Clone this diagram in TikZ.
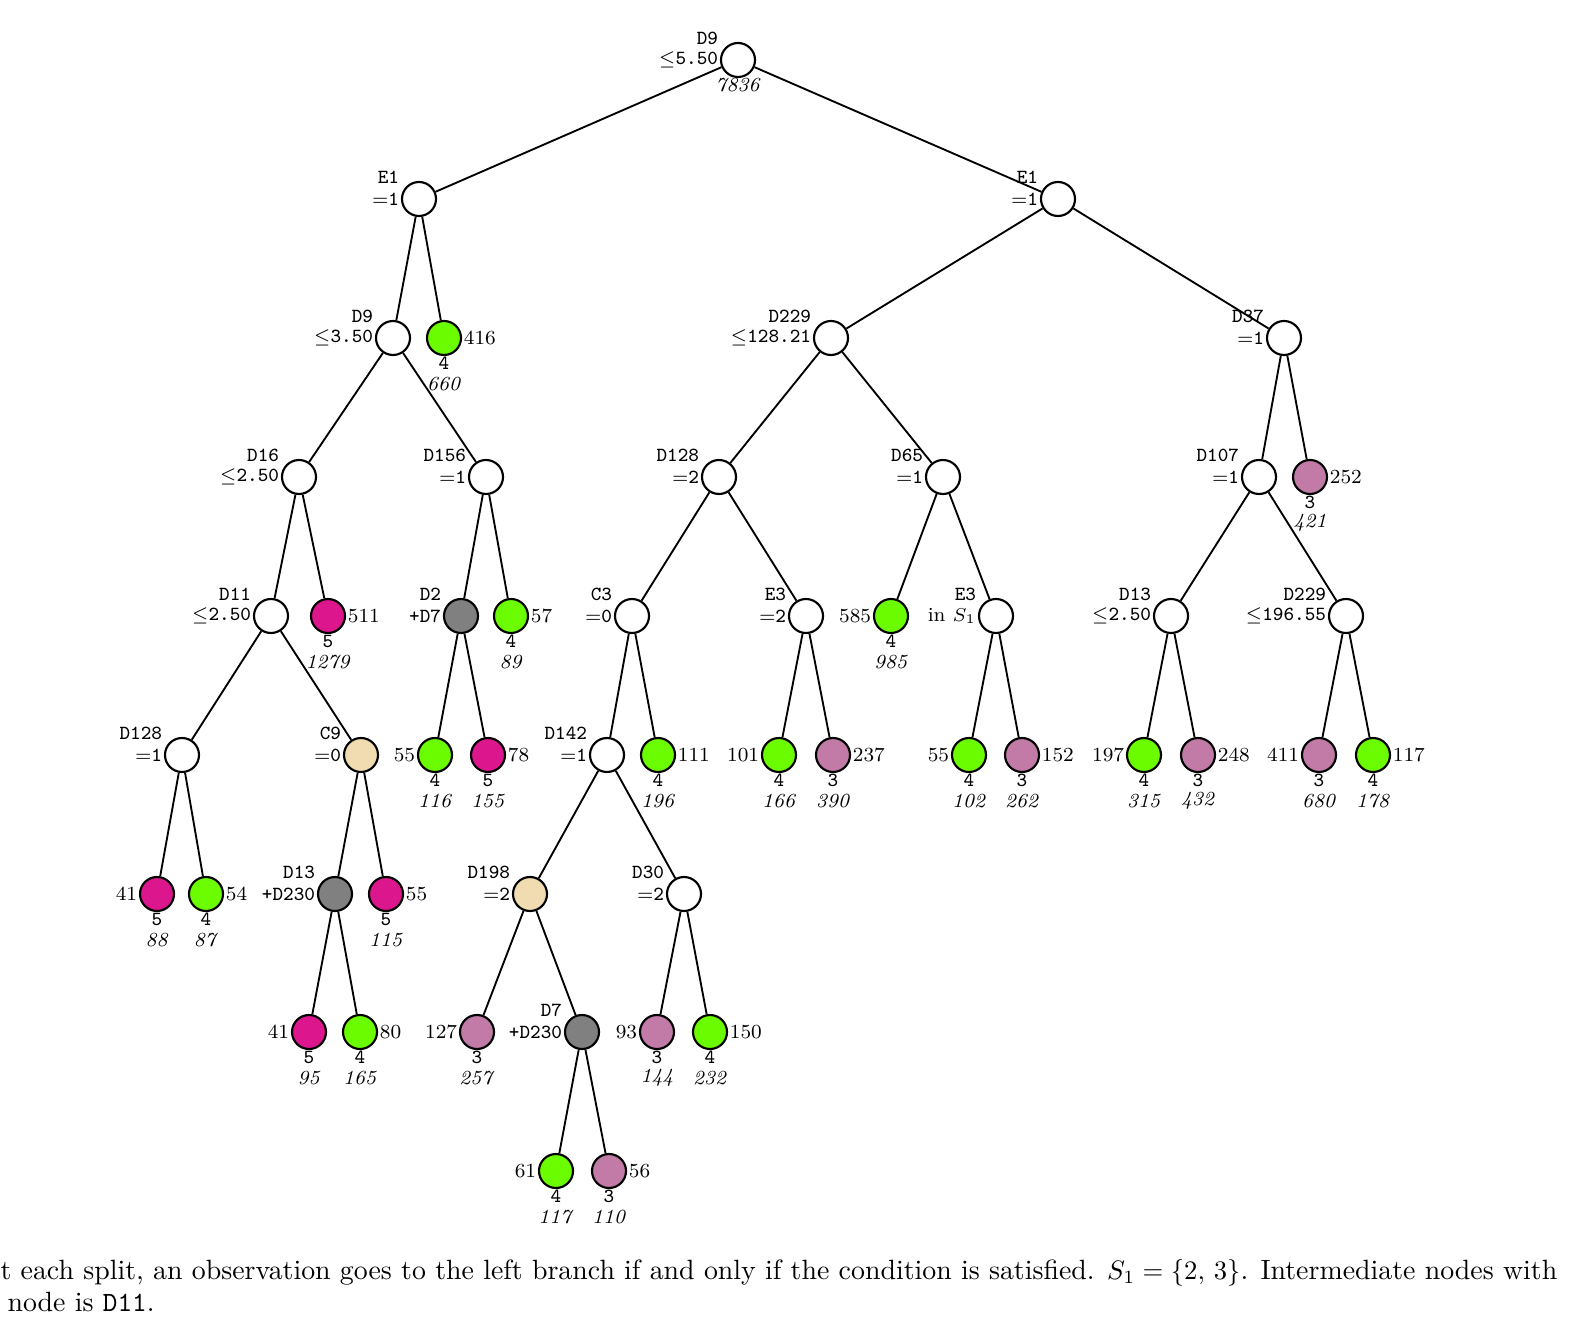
\documentclass[tikz,border=0pt]{standalone}
\usetikzlibrary{calc}
\definecolor{cgreen}{RGB}{108,252,0}
\definecolor{cmag}{RGB}{220,22,140}
\definecolor{cmauve}{RGB}{194,122,166}
\definecolor{cgray}{RGB}{128,128,128}
\definecolor{cbeige}{RGB}{240,220,176}
\tikzset{
  nd/.style={circle, draw, line width=0.8pt, minimum size=12.75pt, inner sep=0pt},
  lab/.style={inner sep=0.5pt, font=\fontsize{7.5}{9}\selectfont},
  edge/.style={line width=0.7pt},
  captext/.style={anchor=base west, inner sep=0pt, font=\fontsize{10.45}{12.5}\selectfont}
}
\newcommand{\inode}[6]{%
  \node[nd, fill=#4] (#1) at (#2,#3) {};
  \node[lab, anchor=east] (#1-c) at (#1.west) {#6};
  \node[lab, anchor=east] (#1-v) at ($(#1-c.east)+(0,-22)$) {#5};
}
\newcommand{\leafL}[7]{%
  \node[nd, fill=#4] (#1) at (#2,#3) {};
  \node[lab, anchor=east] (#1-n) at (#1.west) {#5};
  \node[lab] (#1-k) at ($(#1)+(0,25.5)$) {\texttt{#6}};
  \node[lab] (#1-s) at ($(#1)+(0,46)$) {\textit{#7}};
}
\newcommand{\leafR}[7]{%
  \node[nd, fill=#4] (#1) at (#2,#3) {};
  \node[lab, anchor=west] (#1-n) at (#1.east) {#5};
  \node[lab] (#1-k) at ($(#1)+(0,25.5)$) {\texttt{#6}};
  \node[lab] (#1-s) at ($(#1)+(0,46)$) {\textit{#7}};
}
\begin{document}
\begin{tikzpicture}[x=0.375pt,y=-0.375pt]
\useasboundingbox (0,0) rectangle (1570,1340);
% level 0
\inode{root}{738}{60}{white}{\texttt{D9}}{$\le$\texttt{5.50}}
\node[lab] (root-s) at ($(root)+(0,25.5)$) {\textit{7836}};
% level 1
\inode{eA}{419}{199}{white}{\texttt{E1}}{$=$\texttt{1}}
\inode{eB}{1058}{199}{white}{\texttt{E1}}{$=$\texttt{1}}
% level 2
\inode{dA}{393}{338}{white}{\texttt{D9}}{$\le$\texttt{3.50}}
\leafR{lA}{444}{338}{cgreen}{416}{4}{660}
\inode{dB}{831}{338}{white}{\texttt{D229}}{$\le$\texttt{128.21}}
\inode{dC}{1284}{338}{white}{\texttt{D37}}{$=$\texttt{1}}
% level 3
\inode{dD}{299}{477}{white}{\texttt{D16}}{$\le$\texttt{2.50}}
\inode{dE}{486}{477}{white}{\texttt{D156}}{$=$\texttt{1}}
\inode{dF}{719}{477}{white}{\texttt{D128}}{$=$\texttt{2}}
\inode{dG}{943}{477}{white}{\texttt{D65}}{$=$\texttt{1}}
\inode{dH}{1259}{477}{white}{\texttt{D107}}{$=$\texttt{1}}
\leafR{lB}{1310}{477}{cmauve}{252}{3}{421}
% level 4
\inode{dI}{271}{616}{white}{\texttt{D11}}{$\le$\texttt{2.50}}
\leafR{lC}{328}{616}{cmag}{511}{5}{1279}
\inode{dJ}{461}{616}{cgray}{\texttt{D2}}{\texttt{+D7}}
\leafR{lD}{511}{616}{cgreen}{57}{4}{89}
\inode{dK}{632}{616}{white}{\texttt{C3}}{$=$\texttt{0}}
\inode{dL}{806}{616}{white}{\texttt{E3}}{$=$\texttt{2}}
\leafL{lE}{891}{616}{cgreen}{585}{4}{985}
\inode{dM}{996}{616}{white}{\texttt{E3}}{in $S_1$}
\inode{dN}{1171}{616}{white}{\texttt{D13}}{$\le$\texttt{2.50}}
\inode{dO}{1346}{616}{white}{\texttt{D229}}{$\le$\texttt{196.55}}
% level 5
\inode{dP}{182}{755}{white}{\texttt{D128}}{$=$\texttt{1}}
\inode{dQ}{361}{755}{cbeige}{\texttt{C9}}{$=$\texttt{0}}
\leafL{lF}{435}{755}{cgreen}{55}{4}{116}
\leafR{lG}{488}{755}{cmag}{78}{5}{155}
\inode{dR}{607}{755}{white}{\texttt{D142}}{$=$\texttt{1}}
\leafR{lH}{658}{755}{cgreen}{111}{4}{196}
\leafL{lI}{779}{755}{cgreen}{101}{4}{166}
\leafR{lJ}{833}{755}{cmauve}{237}{3}{390}
\leafL{lK}{969}{755}{cgreen}{55}{4}{102}
\leafR{lL}{1022}{755}{cmauve}{152}{3}{262}
\leafL{lM}{1144}{755}{cgreen}{197}{4}{315}
\leafR{lN}{1198}{755}{cmauve}{248}{3}{432}
\leafL{lO}{1319}{755}{cmauve}{411}{3}{680}
\leafR{lP}{1373}{755}{cgreen}{117}{4}{178}
% level 6
\leafL{lQ}{157}{894}{cmag}{41}{5}{88}
\leafR{lR}{206}{894}{cgreen}{54}{4}{87}
\inode{dS}{335}{894}{cgray}{\texttt{D13}}{\texttt{+D230}}
\leafR{lS}{386}{894}{cmag}{55}{5}{115}
\inode{dT}{530}{894}{cbeige}{\texttt{D198}}{$=$\texttt{2}}
\inode{dU}{684}{894}{white}{\texttt{D30}}{$=$\texttt{2}}
% level 7
\leafL{lT}{309}{1032}{cmag}{41}{5}{95}
\leafR{lU}{360}{1032}{cgreen}{80}{4}{165}
\leafL{lV}{477}{1032}{cmauve}{127}{3}{257}
\inode{dV}{582}{1032}{cgray}{\texttt{D7}}{\texttt{+D230}}
\leafL{lW}{657}{1032}{cmauve}{93}{3}{144}
\leafR{lX}{710}{1032}{cgreen}{150}{4}{232}
% level 8
\leafL{lY}{556}{1171}{cgreen}{61}{4}{117}
\leafR{lZ}{609}{1171}{cmauve}{56}{3}{110}
% edges
\draw[edge] (root) -- (eA);
\draw[edge] (root) -- (eB);
\draw[edge] (eA) -- (dA);
\draw[edge] (eA) -- (lA);
\draw[edge] (eB) -- (dB);
\draw[edge] (eB) -- (dC);
\draw[edge] (dA) -- (dD);
\draw[edge] (dA) -- (dE);
\draw[edge] (dB) -- (dF);
\draw[edge] (dB) -- (dG);
\draw[edge] (dC) -- (dH);
\draw[edge] (dC) -- (lB);
\draw[edge] (dD) -- (dI);
\draw[edge] (dD) -- (lC);
\draw[edge] (dE) -- (dJ);
\draw[edge] (dE) -- (lD);
\draw[edge] (dF) -- (dK);
\draw[edge] (dF) -- (dL);
\draw[edge] (dG) -- (lE);
\draw[edge] (dG) -- (dM);
\draw[edge] (dH) -- (dN);
\draw[edge] (dH) -- (dO);
\draw[edge] (dI) -- (dP);
\draw[edge] (dI) -- (dQ);
\draw[edge] (dJ) -- (lF);
\draw[edge] (dJ) -- (lG);
\draw[edge] (dK) -- (dR);
\draw[edge] (dK) -- (lH);
\draw[edge] (dL) -- (lI);
\draw[edge] (dL) -- (lJ);
\draw[edge] (dM) -- (lK);
\draw[edge] (dM) -- (lL);
\draw[edge] (dN) -- (lM);
\draw[edge] (dN) -- (lN);
\draw[edge] (dO) -- (lO);
\draw[edge] (dO) -- (lP);
\draw[edge] (dP) -- (lQ);
\draw[edge] (dP) -- (lR);
\draw[edge] (dQ) -- (dS);
\draw[edge] (dQ) -- (lS);
\draw[edge] (dR) -- (dT);
\draw[edge] (dR) -- (dU);
\draw[edge] (dS) -- (lT);
\draw[edge] (dS) -- (lU);
\draw[edge] (dT) -- (lV);
\draw[edge] (dT) -- (dV);
\draw[edge] (dU) -- (lW);
\draw[edge] (dU) -- (lX);
\draw[edge] (dV) -- (lY);
\draw[edge] (dV) -- (lZ);
% caption
\node[captext] (cap1) at (0,1279) {t each split, an observation goes to the left branch if and only if the condition is satisfied. $S_1=\{2,\,3\}$. Intermediate nodes with};
\node[captext] (cap2) at (7,1311) {node is \texttt{D11}.};
\end{tikzpicture}
\end{document}
